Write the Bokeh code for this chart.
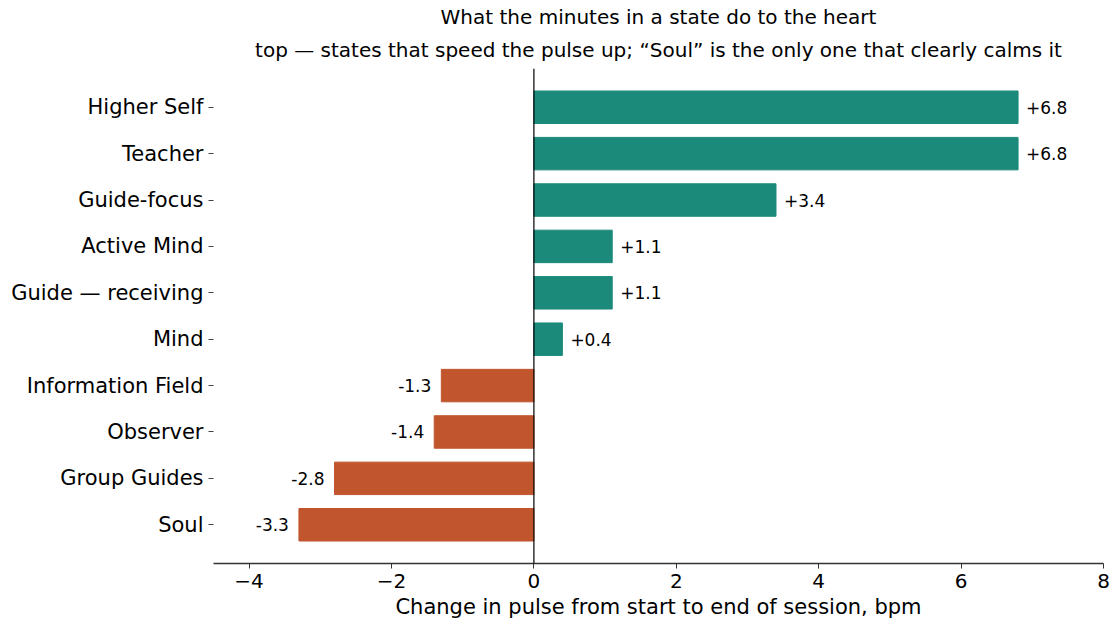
from bokeh.plotting import figure
from bokeh.models import Range1d, FixedTicker, Span, Title, ColumnDataSource
from bokeh.embed import file_html
from bokeh.resources import INLINE
from bokeh.core.properties import value

# Change in pulse (bpm) from start to end of session, per state
states = ["Higher Self", "Teacher", "Guide-focus", "Active Mind", "Guide — receiving",
          "Mind", "Information Field", "Observer", "Group Guides", "Soul"]
delta_bpm = [6.8, 6.8, 3.4, 1.1, 1.1, 0.4, -1.3, -1.4, -2.8, -3.3]

x_ticks = [-4, -2, 0, 2, 4, 6, 8]
x_tick_labels = ["−4", "−2", "0", "2", "4", "6", "8"]

title_lines = ["What the minutes in a state do to the heart",
               "top — states that speed the pulse up; “Soul” is the only one that clearly calms it"]

UP = "#1b8a7a"
DOWN = "#c0552e"
FONT = "DejaVu Sans"

n = len(states)
ypos = [n - 1 - i for i in range(n)]

src_up = ColumnDataSource(dict(
    y=[ypos[i] for i in range(n) if delta_bpm[i] >= 0],
    v=[delta_bpm[i] for i in range(n) if delta_bpm[i] >= 0],
    lab=[f"{delta_bpm[i]:+.1f}" for i in range(n) if delta_bpm[i] >= 0],
))
src_dn = ColumnDataSource(dict(
    y=[ypos[i] for i in range(n) if delta_bpm[i] < 0],
    v=[delta_bpm[i] for i in range(n) if delta_bpm[i] < 0],
    lab=[f"{delta_bpm[i]:+.1f}" for i in range(n) if delta_bpm[i] < 0],
))

p = figure(frame_width=890, frame_height=495,
           x_range=Range1d(-4.5, 8), y_range=Range1d(-0.835, n - 1 + 0.835),
           output_backend="svg", toolbar_location=None,
           min_border_left=213, min_border_right=17,
           min_border_top=68, min_border_bottom=70)
p.background_fill_color = "white"
p.border_fill_color = "white"
p.outline_line_color = None
p.xgrid.visible = False
p.ygrid.visible = False

p.hbar(y="y", left=0, right="v", height=0.7, color=UP, source=src_up)
p.hbar(y="y", left=0, right="v", height=0.7, color=DOWN, source=src_dn)

p.add_layout(Span(location=0, dimension="height", line_color="black", line_width=1.2))

p.text(x="v", y="y", text="lab", source=src_up, x_offset=8,
       text_align="left", text_baseline="middle",
       text_font=value(FONT), text_font_size="17px", text_color="black")
p.text(x="v", y="y", text="lab", source=src_dn, x_offset=-10,
       text_align="right", text_baseline="middle",
       text_font=value(FONT), text_font_size="17px", text_color="black")

# x axis
xa = p.xaxis[0]
xa.ticker = FixedTicker(ticks=x_ticks)
xa.major_label_overrides = {t: s for t, s in zip(x_ticks, x_tick_labels)}
xa.minor_tick_line_color = None
xa.major_tick_in = 0
xa.major_tick_out = 5
xa.axis_line_color = "#333333"
xa.axis_line_width = 1.5
xa.major_tick_line_color = "#333333"
xa.major_label_text_font = FONT
xa.major_label_text_font_size = "20px"
xa.major_label_text_color = "black"
xa.major_label_standoff = 5
xa.axis_label = "Change in pulse from start to end of session, bpm"
xa.axis_label_text_font = FONT
xa.axis_label_text_font_size = "21px"
xa.axis_label_text_font_style = "normal"
xa.axis_label_text_color = "black"
xa.axis_label_standoff = 4

# y axis with state names
ya = p.yaxis[0]
ya.ticker = FixedTicker(ticks=ypos)
ya.major_label_overrides = {ypos[i]: states[i] for i in range(n)}
ya.minor_tick_line_color = None
ya.axis_line_color = None
ya.major_tick_in = 0
ya.major_tick_out = 5
ya.major_tick_line_color = "#444444"
ya.major_label_text_font = FONT
ya.major_label_text_font_size = "21px"
ya.major_label_text_color = "black"
ya.major_label_standoff = 5

# two-line title, centred over the plotting area (second line added first = closest to plot)
p.title = None
p.add_layout(Title(text=title_lines[1], align="center", vertical_align="bottom",
                   text_font=FONT, text_font_size="20px", text_font_style="normal",
                   text_color="black", text_line_height=0.75, standoff=14), "above")
p.add_layout(Title(text=title_lines[0], align="center",
                   text_font=FONT, text_font_size="20px", text_font_style="normal",
                   text_color="black", standoff=0), "above")

open("out.html", "w").write(file_html(p, INLINE))
